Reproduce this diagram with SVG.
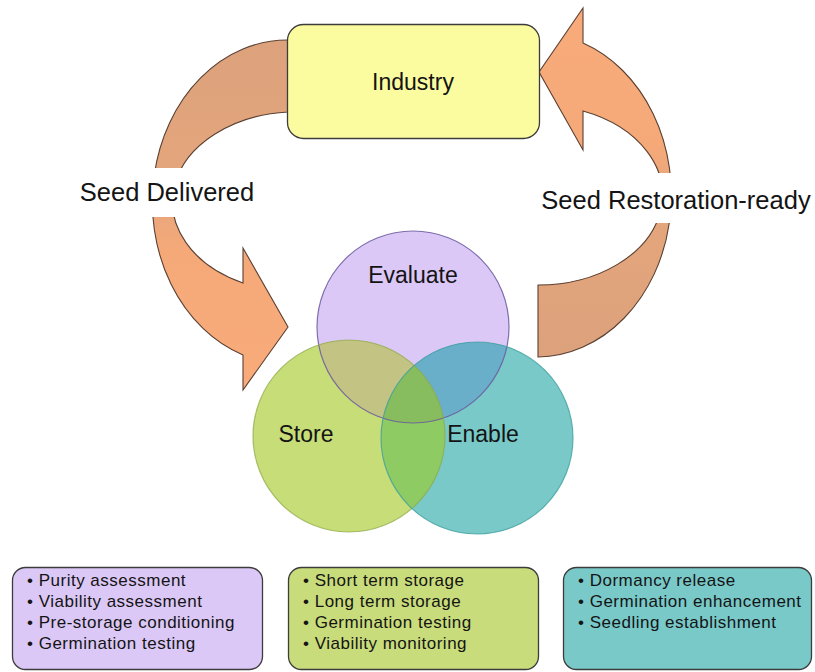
<svg xmlns="http://www.w3.org/2000/svg" width="815" height="672" viewBox="0 0 815 672">
<defs>
<style>
.t{font-family:"Liberation Sans",Arial,sans-serif;fill:#141414}
.lbl{font-size:25.5px;text-anchor:middle}
.node{font-size:23px;text-anchor:middle}
.li{font-size:17px;letter-spacing:0.5px}
.arrow{stroke:#5a4032;stroke-width:1.1;stroke-linejoin:miter}
.box{stroke:#3c3c3c;stroke-width:1.3}
</style>
<linearGradient id="gL" gradientUnits="userSpaceOnUse" x1="0" y1="40" x2="0" y2="390">
<stop offset="0" stop-color="#dca27c"/>
<stop offset="0.45" stop-color="#e5a67c"/>
<stop offset="0.6" stop-color="#f5a979"/>
<stop offset="1" stop-color="#f9ab7a"/>
</linearGradient>
<linearGradient id="gR" gradientUnits="userSpaceOnUse" x1="0" y1="8" x2="0" y2="357">
<stop offset="0" stop-color="#f9ab7a"/>
<stop offset="0.4" stop-color="#f5a979"/>
<stop offset="0.55" stop-color="#e5a67c"/>
<stop offset="1" stop-color="#dca27c"/>
</linearGradient>
<clipPath id="cE"><circle cx="413" cy="327" r="96"/></clipPath>
<clipPath id="cS"><circle cx="349" cy="436" r="96"/></clipPath>
<clipPath id="cN"><circle cx="477" cy="438" r="96"/></clipPath>
</defs>
<rect width="815" height="672" fill="#ffffff"/>

<g id="connectors">
<path class="arrow" fill="url(#gL)" d="M288,40 A135,162 0 0 0 243,355 L243,390 L288,327 L243,248 L243,283 A124,90 0 0 1 288,112 Z"/>
<path class="arrow" fill="url(#gR)" d="M538,357 A135,162 0 0 0 583,43 L583,8 L539,72 L583,150 L583,111 A124,90 0 0 1 538,285 Z"/>
<rect x="72" y="168" width="186" height="49" fill="#ffffff"/>
<text class="t lbl" x="167" y="201">Seed Delivered</text>
<rect x="530" y="173" width="285" height="50" fill="#ffffff"/>
<text class="t lbl" x="676" y="209">Seed Restoration-ready</text>
</g>

<g id="node-industry">
<rect x="287.5" y="24.5" width="252" height="114" rx="16" fill="#fbfb9f" stroke="#3c3c3c" stroke-width="1.3"/>
<text class="t node" x="413" y="90">Industry</text>
</g>

<g id="venn">
<g id="node-evaluate">
<circle cx="413" cy="327" r="96" fill="#dcc8f7"/>
</g>
<g id="node-store">
<circle cx="349" cy="436" r="96" fill="#c6dd78"/>
</g>
<g id="node-enable">
<circle cx="477" cy="438" r="96" fill="#79c9c9"/>
</g>
<g id="overlaps">
<circle cx="349" cy="436" r="96" fill="#c3c384" clip-path="url(#cE)"/>
<circle cx="477" cy="438" r="96" fill="#6aafc9" clip-path="url(#cE)"/>
<circle cx="477" cy="438" r="96" fill="#8fcb63" clip-path="url(#cS)"/>
<g clip-path="url(#cE)"><circle cx="477" cy="438" r="96" fill="#88bd5f" clip-path="url(#cS)"/></g>
</g>
<g id="outlines" fill="none">
<circle cx="413" cy="327" r="96" stroke="#6a5a9e" stroke-width="1.2" stroke-opacity="0.85"/>
<circle cx="349" cy="436" r="96" stroke="#8fa848" stroke-width="1.2" stroke-opacity="0.7"/>
<circle cx="477" cy="438" r="96" stroke="#3d9d9d" stroke-width="1.2" stroke-opacity="0.75"/>
</g>
<text class="t node" x="413" y="283">Evaluate</text>
<text class="t node" x="306" y="442">Store</text>
<text class="t node" x="483" y="442">Enable</text>
</g>

<g id="box-evaluate">
<rect class="box" x="12.5" y="567.5" width="250" height="102" rx="13" fill="#dcc8f7"/>
<text class="t li" x="27" y="586">• Purity assessment</text>
<text class="t li" x="27" y="607">• Viability assessment</text>
<text class="t li" x="27" y="628">• Pre-storage conditioning</text>
<text class="t li" x="27" y="649">• Germination testing</text>
</g>

<g id="box-store">
<rect class="box" x="288.5" y="567.5" width="250" height="102" rx="13" fill="#c9dc7b"/>
<text class="t li" x="303" y="586">• Short term storage</text>
<text class="t li" x="303" y="607">• Long term storage</text>
<text class="t li" x="303" y="628">• Germination testing</text>
<text class="t li" x="303" y="649">• Viability monitoring</text>
</g>

<g id="box-enable">
<rect class="box" x="563.5" y="567.5" width="248" height="102" rx="13" fill="#79c9c9"/>
<text class="t li" x="578" y="586">• Dormancy release</text>
<text class="t li" x="578" y="607">• Germination enhancement</text>
<text class="t li" x="578" y="628">• Seedling establishment</text>
</g>
</svg>
